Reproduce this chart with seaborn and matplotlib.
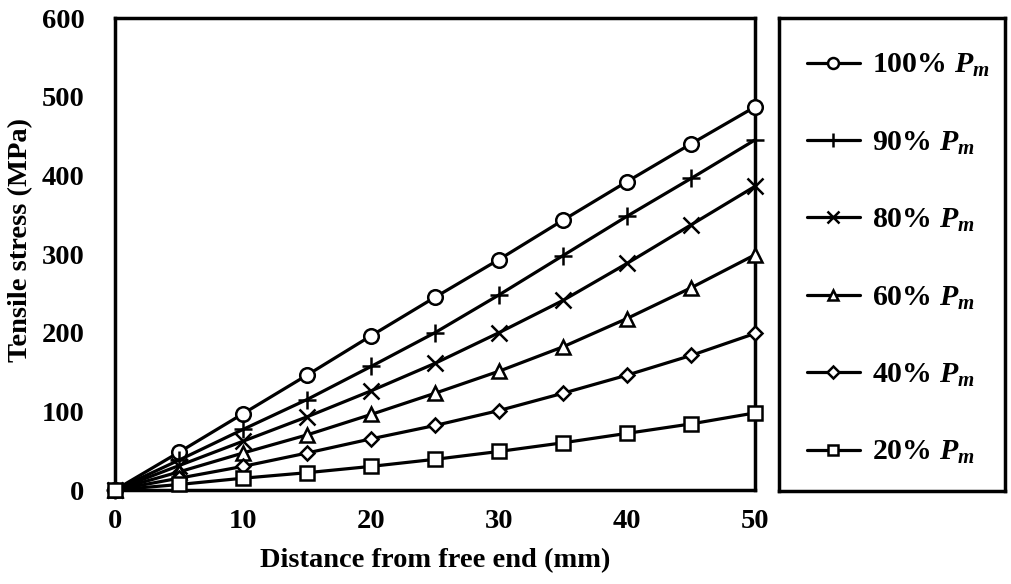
import matplotlib
matplotlib.use("Agg")
import matplotlib.pyplot as plt
import seaborn as sns
import numpy as np

distance = [0, 5, 10, 15, 20, 25, 30, 35, 40, 45, 50]
s100 = [0, 48, 97, 146, 196, 245, 293, 343, 392, 440, 487]
s90 = [0, 38, 77, 115, 157, 200, 248, 298, 348, 396, 445]
s80 = [0, 31, 62, 93, 126, 161, 200, 241, 288, 337, 386]
s60 = [0, 23, 47, 70, 96, 123, 151, 182, 218, 257, 299]
s40 = [0, 15, 30, 47, 65, 82, 101, 123, 146, 171, 199]
s20 = [0, 7, 15, 22, 30, 39, 49, 60, 72, 84, 98]
labels = ["100% $P_m$", "90% $P_m$", "80% $P_m$", "60% $P_m$", "40% $P_m$", "20% $P_m$"]
series = [s100, s90, s80, s60, s40, s20]
x_ticks = [0, 10, 20, 30, 40, 50]
y_ticks = [0, 100, 200, 300, 400, 500, 600]

sns.set_theme(style="white")
plt.rcParams['font.family'] = ['Liberation Serif', 'DejaVu Serif']
plt.rcParams['font.weight'] = 'bold'
plt.rcParams['text.color'] = 'black'
plt.rcParams['axes.labelcolor'] = 'black'
plt.rcParams['xtick.color'] = 'black'
plt.rcParams['ytick.color'] = 'black'
plt.rcParams['mathtext.fontset'] = 'custom'
plt.rcParams['mathtext.it'] = 'Liberation Serif:bold:italic'
plt.rcParams['mathtext.rm'] = 'Liberation Serif:bold'

fig = plt.figure(figsize=(10.11, 5.84), dpi=100)
W, H = 1011, 584
ax = fig.add_axes([115 / W, 1 - 490 / H, 640 / W, 472 / H])

styles = [
    dict(marker='o', markersize=10.5, markerfacecolor='white'),
    dict(marker='+', markersize=13),
    dict(marker='x', markersize=11),
    dict(marker='^', markersize=10, markerfacecolor='white'),
    dict(marker='D', markersize=7.5, markerfacecolor='white'),
    dict(marker='s', markersize=10, markerfacecolor='white'),
]
for vals, lab, st in zip(series, labels, styles):
    sns.lineplot(x=distance, y=vals, ax=ax, color='black', linewidth=2.3,
                 markeredgecolor='black', markeredgewidth=1.8, label=lab,
                 clip_on=False, zorder=3, **st)

ax.set_xlim(0, 50)
ax.set_ylim(0, 600)
ax.set_xticks(x_ticks)
ax.set_yticks(y_ticks)
for sp in ax.spines.values():
    sp.set_linewidth(2.5)
    sp.set_color('black')
ax.tick_params(axis='both', direction='in', length=7, width=2.5, colors='black',
               labelsize=20.5)
ax.tick_params(axis='y', pad=22)
ax.tick_params(axis='x', pad=14)
for t in ax.get_xticklabels() + ax.get_yticklabels():
    t.set_fontweight('bold')
ax.set_xlabel("Distance from free end (mm)", fontsize=20.5, fontweight='bold', labelpad=10)
ax.set_ylabel("Tensile stress (MPa)", fontsize=20.5, fontweight='bold')
ax.yaxis.set_label_coords(-0.128, 0.53)

handles, labs = ax.get_legend_handles_labels()
ax.get_legend().remove()

lax = fig.add_axes([779 / W, 1 - 491 / H, 226 / W, 473 / H])
lax.set_xticks([])
lax.set_yticks([])
for sp in lax.spines.values():
    sp.set_linewidth(2.5)
    sp.set_color('black')
leg = lax.legend(handles, labs, loc='center left', frameon=False, fontsize=21.5,
                 labelspacing=1.68, handlelength=1.75, handletextpad=0.4,
                 borderaxespad=0.55, markerscale=0.75,
                 bbox_to_anchor=(0, 0.49))
for t in leg.get_texts():
    t.set_fontweight('bold')

fig.savefig("out.png", dpi=100, facecolor='white')
